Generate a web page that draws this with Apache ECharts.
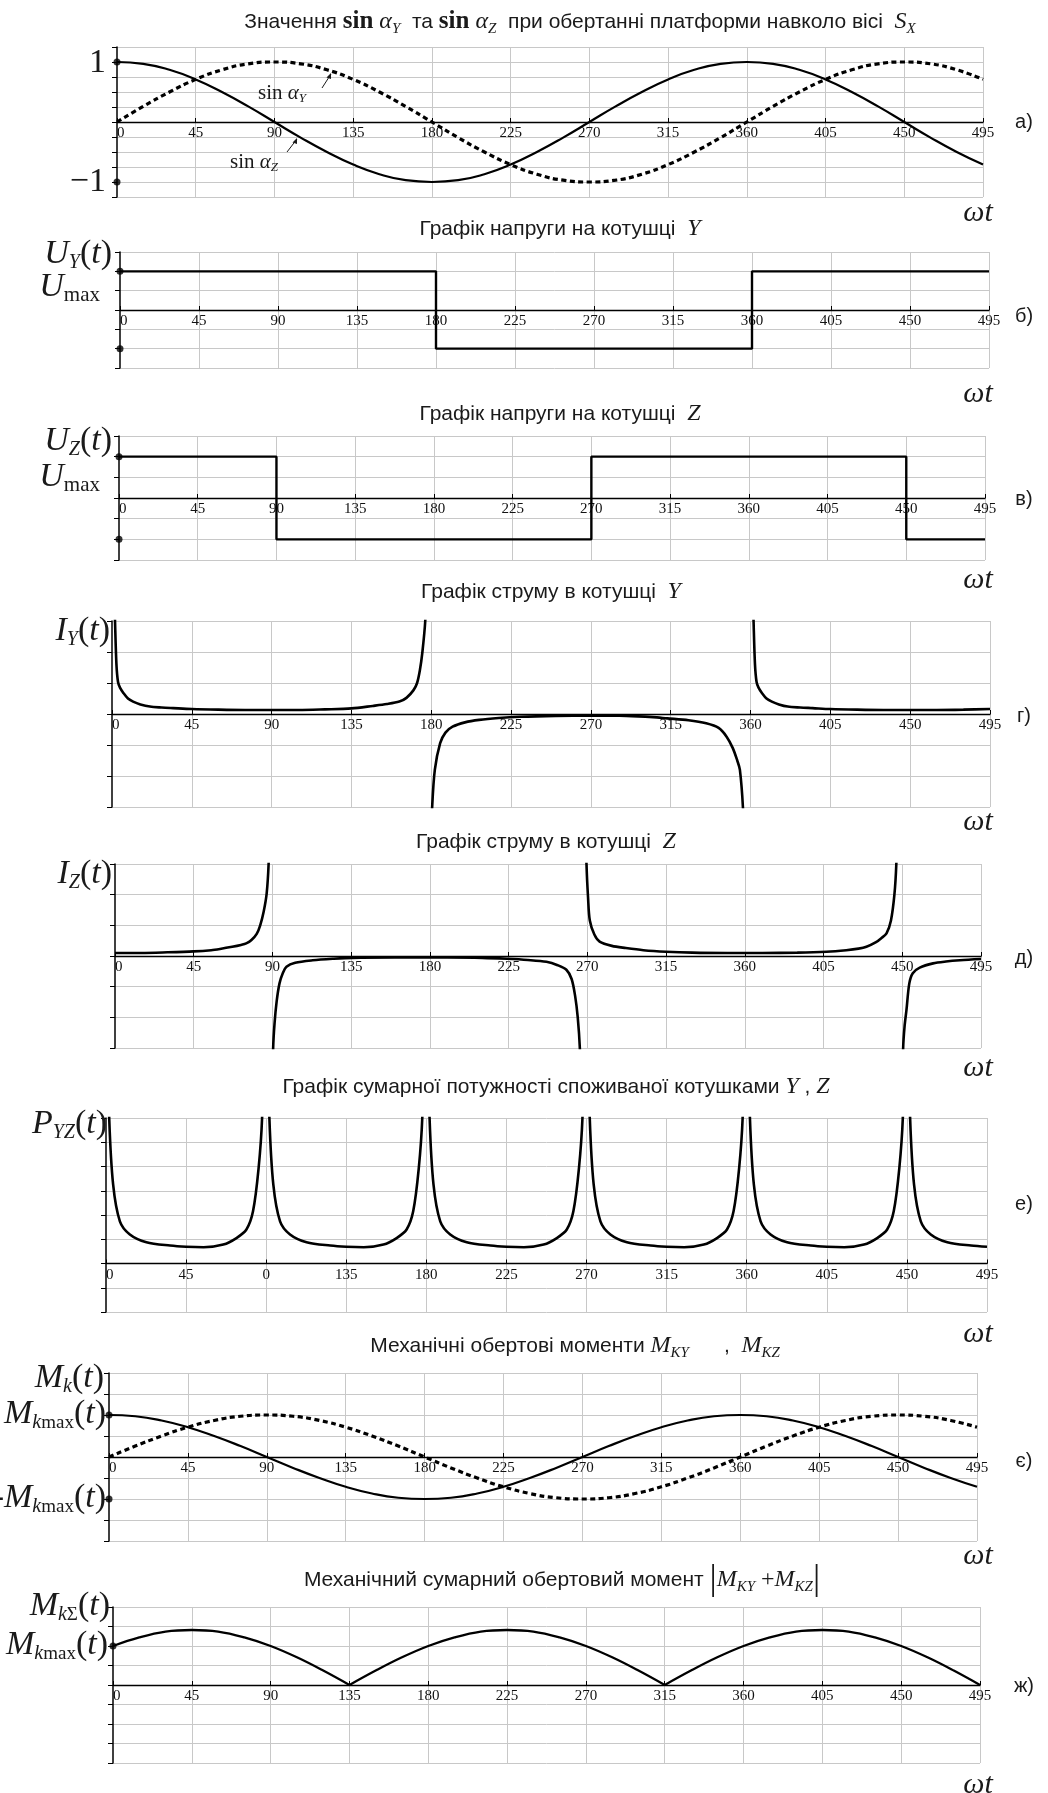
<!DOCTYPE html>
<html><head><meta charset="utf-8">
<script src="https://cdn.jsdelivr.net/npm/echarts@6/dist/echarts.min.js"></script>
<style>html,body{margin:0;padding:0;background:#fff}#c{width:1048px;height:1793px}</style>
</head><body><div id="c"></div>
<script>
// ---------- DATA ----------
const angles15 = [0,15,30,45,60,75,90,105,120,135,150,165,180,195,210,225,240,255,270,285,300,315,330,345,360,375,390,405,420,435,450,465,480,495];
const xTickLabels  = ['0','45','90','135','180','225','270','315','360','405','450','495'];
const xTickLabelsE = ['0','45','0','135','180','225','270','315','360','405','450','495'];

// а) sin αZ (solid) and sin αY (dashed)
const sinAlphaZ = [1,0.97,0.87,0.71,0.5,0.26,0,-0.26,-0.5,-0.71,-0.87,-0.97,-1,-0.97,-0.87,-0.71,-0.5,-0.26,0,0.26,0.5,0.71,0.87,0.97,1,0.97,0.87,0.71,0.5,0.26,0,-0.26,-0.5,-0.71];
const sinAlphaY = [0,0.26,0.5,0.71,0.87,0.97,1,0.97,0.87,0.71,0.5,0.26,0,-0.26,-0.5,-0.71,-0.87,-0.97,-1,-0.97,-0.87,-0.71,-0.5,-0.26,0,0.26,0.5,0.71,0.87,0.97,1,0.97,0.87,0.71];

// б) U_Y, в) U_Z
const uyAng = [0,180,180,360,360,495];
const uyVal = [1,1,-1,-1,1,1];
const uzAng = [0,90,90,270,270,450,450,495];
const uzVal = [1,1,-1,-1,1,1,-1,-1];

// г) I_Y branches
const iyAng1 = [1.0,1.7,2.5,3.4,4.5,6.4,9,11.9,16,21.4,28,34.5,45,60,75,90,105,120,135,147,155,162,166,170,172,173.6,175,176.6,177.5];
const iyVal1 = [4.5,3.0,1.6,1.03,0.85,0.68,0.5,0.4,0.31,0.24,0.21,0.19,0.16,0.14,0.13,0.13,0.13,0.15,0.18,0.26,0.32,0.4,0.52,0.77,1.0,1.42,2.0,3.0,4.5];
const iyAng2 = [179.6,180.5,182,185,188,192,199,207,218,230,250,270,290,305,313,325,335,342,346.5,350,352.5,354,355.7,356.5];
const iyVal2 = [-4.5,-3,-1.8,-0.94,-0.6,-0.41,-0.27,-0.19,-0.13,-0.09,-0.06,-0.05,-0.06,-0.1,-0.14,-0.2,-0.3,-0.45,-0.73,-1.1,-1.5,-1.8,-3,-4.5];
const iyAng3 = [361.0,361.7,362.5,363.4,364.5,366.4,369,372,376,381,388,395,405,420,435,450,465,480,495];
const iyVal3 = [4.5,3.0,1.6,1.03,0.85,0.68,0.5,0.4,0.31,0.24,0.21,0.19,0.16,0.14,0.13,0.13,0.13,0.14,0.16];

// д) I_Z branches
const izAng1 = [0,15,30,45,55,60,67,72,75,78,81,83,85,86.7,87.8,88.5];
const izVal1 = [0.1,0.1,0.12,0.15,0.19,0.23,0.3,0.36,0.41,0.52,0.72,1.0,1.45,2.04,3,4.5];
const izAng2 = [90.0,90.4,91.2,92.4,94,96,98,103,113,125,136,160,190,210,224,236,246.6,253,258,261,263,264.5,265.7,266.3];
const izVal2 = [-4.5,-3,-2.2,-1.48,-0.9,-0.55,-0.35,-0.22,-0.14,-0.09,-0.06,-0.05,-0.05,-0.06,-0.09,-0.13,-0.19,-0.3,-0.45,-0.75,-1.3,-2.0,-3,-4.5];
const izAng3 = [269.0,269.5,270.4,271.4,274,277,284,292,302,315,330,350,370,390,406.7,418,425,429.5,435,438,441,443.5,445.5,446.6,447.2];
const izVal3 = [4.5,3,1.9,1.16,0.7,0.47,0.33,0.26,0.19,0.14,0.11,0.1,0.1,0.11,0.14,0.19,0.24,0.3,0.45,0.58,0.74,1.15,2.0,3,4.5];
const izAng4 = [450.2,450.5,451.3,452.4,454,456,460,467.6,475,483,495];
const izVal4 = [-4.5,-3,-2.3,-1.76,-0.9,-0.56,-0.38,-0.24,-0.18,-0.14,-0.1];

// е) P_YZ branches
const pAng1 = [1.2,1.8,4,7.8,13.4,22.7,36,45,54.8,65.9,73.3,78.9,82.6,85.7,87.7,88.3];
const pVal1 = [9,6,3.26,1.74,1.2,0.88,0.74,0.69,0.67,0.78,1.05,1.4,2.15,3.9,6,9];
const pAng2 = [91.2,91.8,94,97.8,103.4,112.7,126,135,144.8,155.9,163.3,168.9,172.6,175.7,177.7,178.3];
const pVal2 = [9,6,3.26,1.74,1.2,0.88,0.74,0.69,0.67,0.78,1.05,1.4,2.15,3.9,6,9];
const pAng3 = [181.2,181.8,184,187.8,193.4,202.7,216,225,234.8,245.9,253.3,258.9,262.6,265.7,267.7,268.3];
const pVal3 = [9,6,3.26,1.74,1.2,0.88,0.74,0.69,0.67,0.78,1.05,1.4,2.15,3.9,6,9];
const pAng4 = [271.2,271.8,274,277.8,283.4,292.7,306,315,324.8,335.9,343.3,348.9,352.6,355.7,357.7,358.3];
const pVal4 = [9,6,3.26,1.74,1.2,0.88,0.74,0.69,0.67,0.78,1.05,1.4,2.15,3.9,6,9];
const pAng5 = [361.2,361.8,364,367.8,373.4,382.7,396,405,414.8,425.9,433.3,438.9,442.6,445.7,447.7,448.3];
const pVal5 = [9,6,3.26,1.74,1.2,0.88,0.74,0.69,0.67,0.78,1.05,1.4,2.15,3.9,6,9];
const pAng6 = [451.2,451.8,454,457.8,463.4,472.7,486,495];
const pVal6 = [9,6,3.26,1.74,1.2,0.88,0.74,0.69];

// є) moments M_KZ (solid), M_KY (dashed)
const momentKZ = [1,0.97,0.87,0.71,0.5,0.26,0,-0.26,-0.5,-0.71,-0.87,-0.97,-1,-0.97,-0.87,-0.71,-0.5,-0.26,0,0.26,0.5,0.71,0.87,0.97,1,0.97,0.87,0.71,0.5,0.26,0,-0.26,-0.5,-0.71];
const momentKY = [0,0.26,0.5,0.71,0.87,0.97,1,0.97,0.87,0.71,0.5,0.26,0,-0.26,-0.5,-0.71,-0.87,-0.97,-1,-0.97,-0.87,-0.71,-0.5,-0.26,0,0.26,0.5,0.71,0.87,0.97,1,0.97,0.87,0.71];

// ж) |M_KY + M_KZ|
const momentSum = [1,1.22,1.37,1.41,1.37,1.22,1,0.71,0.37,0,0.37,0.71,1,1.22,1.37,1.41,1.37,1.22,1,0.71,0.37,0,0.37,0.71,1,1.22,1.37,1.41,1.37,1.22,1,0.71,0.37,0];

// level dots on the vertical axis
const dotsA = [1,-1], dotsB = [1,-1], dotsC = [1,-1], dotsMk = [1,-1], dotsSum = [1];

// ---------- LAYOUT ----------
const layout = [
  {left:117, width:866, top:47,   height:150, min:-1.25, max:1.25, step:0.25},
  {left:120, width:869, top:252,  height:116, min:-1.5,  max:1.5,  step:0.5},
  {left:119, width:866, top:436,  height:124, min:-1.5,  max:1.5,  step:0.5},
  {left:112, width:878, top:621,  height:186, min:-3,    max:3,    step:1},
  {left:115, width:866, top:864,  height:184, min:-3,    max:3,    step:1},
  {left:106, width:881, top:1118, height:194, min:-2,    max:6,    step:1},
  {left:109, width:868, top:1373, height:168, min:-2,    max:2,    step:0.5},
  {left:113, width:867, top:1607, height:156, min:-2,    max:2,    step:0.5}
];

const GRID = '#c8c8c8';
const grids = [], xAxes = [], yAxes = [];
layout.forEach((L, i) => {
  grids.push({left:L.left, width:L.width, top:L.top, height:L.height, containLabel:false});
  const labels = i === 5 ? xTickLabelsE : xTickLabels;
  // x axis drawn through the zero level of the y axis
  const zeroOffset = -(0 - L.min) / (L.max - L.min) * L.height;
  xAxes.push({gridIndex:i, type:'value', min:0, max:495, interval:45, position:'bottom', offset:zeroOffset,
    axisLine:{onZero:false, lineStyle:{color:'#000', width:1.3}},
    axisTick:{inside:true, length:4, lineStyle:{color:'#000'}},
    axisLabel:{formatter:v => labels[Math.round(v/45)], fontFamily:'Liberation Serif', fontSize:15, color:'#111', margin:4, alignMinLabel:'left', showMinLabel:true, showMaxLabel:true},
    splitLine:{show:true, showMinLine:false, lineStyle:{color:GRID, width:1}}, z:5});
  yAxes.push({gridIndex:i, type:'value', min:L.min, max:L.max, interval:L.step,
    axisLine:{show:true, onZero:false, lineStyle:{color:'#000', width:1.5}},
    axisTick:{show:true, length:5, lineStyle:{color:'#000'}},
    axisLabel:{show:false},
    splitLine:{show:true, lineStyle:{color:GRID, width:1}}, z:3});
});

const series = [];
function pairs(xs, ys){ return xs.map((x,k)=>[x, ys[k]]); }
function addLine(i, xs, ys, opt){
  opt = opt || {};
  series.push({type:'line', xAxisIndex:i, yAxisIndex:i, data:pairs(xs, ys), symbol:'none', showSymbol:false,
    smooth: opt.smooth === undefined ? 0.3 : opt.smooth, clip:true, z:6,
    lineStyle:{color:'#000', width: opt.width || 2.3, type: opt.type || 'solid', cap:'butt'}});
}
function addDots(i, ys){
  series.push({type:'scatter', xAxisIndex:i, yAxisIndex:i, data:ys.map(y=>[0,y]), symbol:'circle', symbolSize:7, clip:false, z:7,
    itemStyle:{color:'#000'}});
}
function splitAtZeros(xs, ys){
  const segs = []; let cur = {x:[xs[0]], y:[ys[0]]};
  for (let k = 1; k < xs.length; k++){
    cur.x.push(xs[k]); cur.y.push(ys[k]);
    if (ys[k] === 0 && k < xs.length-1){ segs.push(cur); cur = {x:[xs[k]], y:[ys[k]]}; }
  }
  segs.push(cur); return segs;
}

// а
addLine(0, angles15, sinAlphaZ, {width:2.2, smooth:true});
addLine(0, angles15, sinAlphaY, {width:3.2, smooth:true, type:[5,3.5]});
addDots(0, dotsA);
// б, в
addLine(1, uyAng, uyVal, {width:2.4, smooth:false});
addDots(1, dotsB);
addLine(2, uzAng, uzVal, {width:2.4, smooth:false});
addDots(2, dotsC);
// г
addLine(3, iyAng1, iyVal1, {width:2.6});
addLine(3, iyAng2, iyVal2, {width:2.6});
addLine(3, iyAng3, iyVal3, {width:2.6});
// д
addLine(4, izAng1, izVal1, {width:2.6});
addLine(4, izAng2, izVal2, {width:2.6});
addLine(4, izAng3, izVal3, {width:2.6});
addLine(4, izAng4, izVal4, {width:2.6});
// е
[[pAng1,pVal1],[pAng2,pVal2],[pAng3,pVal3],[pAng4,pVal4],[pAng5,pVal5],[pAng6,pVal6]].forEach(b => addLine(5, b[0], b[1], {width:2.6}));
// є
addLine(6, angles15, momentKZ, {width:2.2, smooth:true});
addLine(6, angles15, momentKY, {width:3.2, smooth:true, type:[5,3.5]});
addDots(6, dotsMk);
// ж
splitAtZeros(angles15, momentSum).forEach(s => addLine(7, s.x, s.y, {width:2.3, smooth:0.4}));
addDots(7, dotsSum);

// ---------- TEXT ----------
const C = '#1a1a1a';
const titleRich = {
  s:{fontFamily:'Liberation Sans', fontSize:21, fill:C, color:C, lineHeight:30},
  m:{fontFamily:'Liberation Serif', fontSize:24, fontStyle:'italic', fill:C, color:C, lineHeight:30},
  b:{fontFamily:'Liberation Serif', fontSize:25, fontWeight:'bold', fill:C, color:C, lineHeight:30},
  r:{fontFamily:'Liberation Serif', fontSize:24, fill:C, color:C, lineHeight:30},
  u:{fontFamily:'Liberation Serif', fontSize:15, fontStyle:'italic', fill:C, color:C, lineHeight:14, verticalAlign:'bottom'},
  bar:{fontFamily:'Liberation Serif', fontSize:36, fill:C, color:C, lineHeight:30}
};
const mathRich = {
  M:{fontFamily:'Liberation Serif', fontSize:34, fontStyle:'italic', fill:C, color:C, lineHeight:38},
  R:{fontFamily:'Liberation Serif', fontSize:34, fill:C, color:C, lineHeight:38},
  S:{fontFamily:'Liberation Serif', fontSize:20, fontStyle:'italic', fill:C, color:C, lineHeight:20, verticalAlign:'bottom'},
  Sr:{fontFamily:'Liberation Serif', fontSize:19, fill:C, color:C, lineHeight:20, verticalAlign:'bottom'},
  L:{fontFamily:'Liberation Serif', fontSize:21, fill:C, color:C, lineHeight:9, verticalAlign:'bottom'}
};
const annRich = {
  r:{fontFamily:'Liberation Serif', fontSize:21, fill:C, color:C, lineHeight:24},
  m:{fontFamily:'Liberation Serif', fontSize:21, fontStyle:'italic', fill:C, color:C, lineHeight:24},
  u:{fontFamily:'Liberation Serif', fontSize:13, fontStyle:'italic', fill:C, color:C, lineHeight:12, verticalAlign:'bottom'}
};
function txt(x, y, text, rich, align){
  return {type:'text', x:x, y:y, z:20, silent:true,
    style:{text:text, rich:rich, align:align||'left', verticalAlign:'middle', textAlign:align||'left', textVerticalAlign:'middle',
      fontFamily:'Liberation Sans', fontSize:16, fill:C}};
}
function plain(x, y, text, font, size, align, style){
  return {type:'text', x:x, y:y, z:20, silent:true,
    style:{text:text, fontFamily:font, fontSize:size, fontStyle:style||'normal', fill:C, align:align||'center', verticalAlign:'middle', textAlign:align||'center', textVerticalAlign:'middle'}};
}

const titles = [
  [580, 22,  '{s|Значення }{b|sin}{m| α}{u|Y}{s|  та }{b|sin}{m| α}{u|Z}{s|  при обертанні платформи навколо вісі  }{m|S}{u|X}'],
  [560, 229, '{s|Графік напруги на котушці  }{m|Y}'],
  [560, 414, '{s|Графік напруги на котушці  }{m|Z}'],
  [551, 592, '{s|Графік струму в котушці  }{m|Y}'],
  [546, 842, '{s|Графік струму в котушці  }{m|Z}'],
  [556, 1087,'{s|Графік сумарної потужності споживаної котушками }{m|Y}{s| , }{m|Z}'],
  [575, 1346,'{s|Механічні обертові моменти }{m|M}{u|KY}{s|      ,  }{m|M}{u|KZ}'],
  [562, 1580,'{s|Механічний сумарний обертовий момент }{bar||}{m|M}{u|KY}{r| +}{m|M}{u|KZ}{bar||}']
];
const letters = [['а)',122],['б)',316],['в)',499],['г)',716],['д)',958],['е)',1204],['є)',1461],['ж)',1686]];
const omegaY = [213, 394, 580, 822, 1068, 1334, 1556, 1785];

const graphics = [];
titles.forEach(t => graphics.push(txt(t[0], t[1], t[2], titleRich, 'center')));
letters.forEach(l => graphics.push(plain(1024, l[1], l[0], 'Liberation Sans', 20, 'center')));
omegaY.forEach(y => graphics.push(plain(978, y, 'ωt', 'Liberation Serif', 30, 'center', 'italic')));

// vertical-axis math labels
graphics.push(plain(106, 63,  '1',  'Liberation Serif', 34, 'right'));
graphics.push(plain(106, 182, '−1', 'Liberation Serif', 34, 'right'));
graphics.push(txt(112, 254, '{M|U}{S|Y}{R|(}{M|t}{R|)}', mathRich, 'right'));
graphics.push(txt(100, 287, '{M|U}{L|max}', mathRich, 'right'));
graphics.push(txt(112, 441, '{M|U}{S|Z}{R|(}{M|t}{R|)}', mathRich, 'right'));
graphics.push(txt(100, 477, '{M|U}{L|max}', mathRich, 'right'));
graphics.push(txt(110, 631, '{M|I}{S|Y}{R|(}{M|t}{R|)}', mathRich, 'right'));
graphics.push(txt(112, 874, '{M|I}{S|Z}{R|(}{M|t}{R|)}', mathRich, 'right'));
graphics.push(txt(107, 1124,'{M|P}{S|YZ}{R|(}{M|t}{R|)}', mathRich, 'right'));
graphics.push(txt(104, 1378,'{M|M}{S|k}{R|(}{M|t}{R|)}', mathRich, 'right'));
graphics.push(txt(106, 1414,'{M|M}{S|k}{Sr|max}{R|(}{M|t}{R|)}', mathRich, 'right'));
graphics.push(txt(106, 1498,'{R|-}{M|M}{S|k}{Sr|max}{R|(}{M|t}{R|)}', mathRich, 'right'));
graphics.push(txt(110, 1606,'{M|M}{S|k}{Sr|Σ}{R|(}{M|t}{R|)}', mathRich, 'right'));
graphics.push(txt(108, 1645,'{M|M}{S|k}{Sr|max}{R|(}{M|t}{R|)}', mathRich, 'right'));

// annotations in panel а
graphics.push(txt(258, 93,  '{r|sin }{m|α}{u|Y}', annRich, 'left'));
graphics.push(txt(230, 162, '{r|sin }{m|α}{u|Z}', annRich, 'left'));
graphics.push({type:'line', z:20, silent:true, shape:{x1:322, y1:88, x2:331, y2:74}, style:{stroke:C, lineWidth:1}});
graphics.push({type:'polygon', z:20, silent:true, shape:{points:[[331,73],[326.5,77.5],[331,79]]}, style:{fill:C}});
graphics.push({type:'line', z:20, silent:true, shape:{x1:287, y1:152, x2:297, y2:139}, style:{stroke:C, lineWidth:1}});
graphics.push({type:'polygon', z:20, silent:true, shape:{points:[[297,138],[292.5,142.5],[297,144]]}, style:{fill:C}});

const chart = echarts.init(document.getElementById('c'), null, {renderer:'canvas', width:1048, height:1793});
chart.setOption({
  animation:false,
  backgroundColor:'#fff',
  grid:grids, xAxis:xAxes, yAxis:yAxes, series:series, graphic:graphics
});
</script></body></html>
